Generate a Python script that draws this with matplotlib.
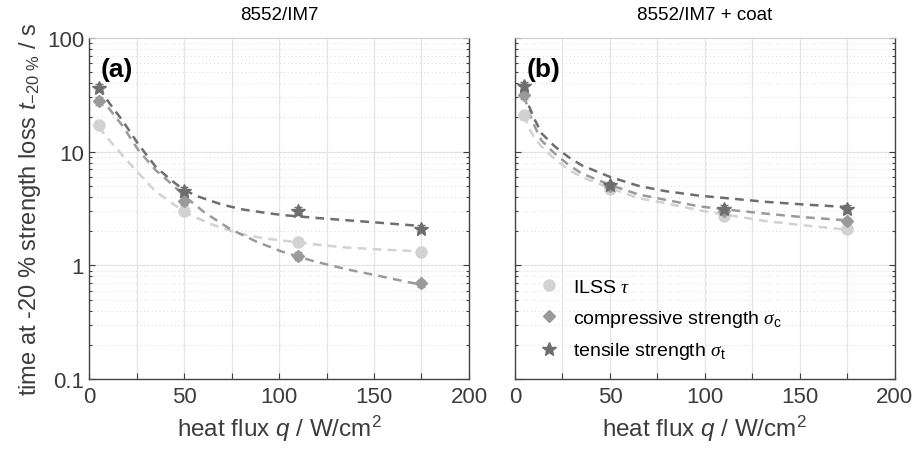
import numpy as np
import matplotlib
matplotlib.use("Agg")
import matplotlib.pyplot as plt
from matplotlib.ticker import FixedLocator, NullFormatter

plt.rcParams['font.family'] = ['Liberation Sans', 'DejaVu Sans']
plt.rcParams['mathtext.fontset'] = 'custom'
plt.rcParams['mathtext.rm'] = 'Liberation Sans'
plt.rcParams['mathtext.it'] = 'Liberation Sans:italic'
plt.rcParams['mathtext.cal'] = 'Liberation Serif:italic'

# measured points, heat flux in W/cm2
q = [5, 50, 110, 175]

# 8552/IM7
ilss_a = [17.0, 3.0, 1.6, 1.31]
comp_a = [28.0, 3.7, 1.21, 0.70]
tens_a = [36.5, 4.5, 3.0, 2.1]
ilss_a_err = [1.2, 0.2, 0.08, 0.07]
comp_a_err = [2.0, 0.3, 0.1, 0.05]
tens_a_err = [2.5, 0.35, 0.25, 0.15]

# 8552/IM7 + coat
ilss_b = [21.0, 4.7, 2.7, 2.07]
comp_b = [31.5, 5.0, 3.0, 2.45]
tens_b = [38.0, 5.1, 3.15, 3.15]
ilss_b_err = [1.5, 0.25, 0.15, 0.12]
comp_b_err = [2.5, 0.3, 0.2, 0.15]
tens_b_err = [3.0, 0.3, 0.25, 0.25]

# fit curves
fit_q_a = [5, 10.5, 17.5, 26, 35, 43, 50, 58, 70, 81, 95, 104, 120, 136, 153, 170, 175]
fit_tens_a = [37, 27, 18.9, 11.6, 7.4, 5.65, 4.6, 4.0, 3.42, 3.1, 2.86, 2.75, 2.61, 2.49, 2.37, 2.25, 2.22]
fit_q_a2 = [5, 10.5, 17.5, 26, 35, 44, 50, 61, 74, 88, 101, 118, 136, 153, 170, 175]
fit_comp_a = [31, 24, 17.0, 10.3, 6.9, 5.1, 4.1, 2.9, 2.1, 1.62, 1.33, 1.09, 0.92, 0.805, 0.70, 0.68]
fit_q_a3 = [5, 11.4, 22.8, 35, 51, 65, 79, 92, 105, 120, 136, 153, 169, 175]
fit_ilss_a = [16.5, 12.2, 7.4, 4.47, 2.88, 2.28, 1.9, 1.73, 1.63, 1.52, 1.43, 1.38, 1.34, 1.32]

fit_q_b = [5, 7, 10.5, 14, 21, 28, 35, 50, 65, 79, 97, 115, 132, 152, 173, 175]
fit_tens_b = [34, 26, 19.0, 14.5, 11.1, 9.0, 7.6, 6.0, 5.0, 4.5, 4.1, 3.85, 3.62, 3.43, 3.27, 3.25]
fit_comp_b = [31, 23, 16.5, 12.5, 9.6, 7.7, 6.45, 5.1, 4.2, 3.78, 3.3, 3.05, 2.85, 2.65, 2.5, 2.48]
fit_ilss_b = [21, 16.5, 13.0, 11.1, 8.6, 7.0, 6.0, 4.78, 3.9, 3.53, 3.05, 2.72, 2.45, 2.25, 2.07, 2.05]

c_ilss = '#d2d2d2'
c_comp = '#9a9a9a'
c_tens = '#6e6e6e'
tick_col = '#3c3c3c'

fig = plt.figure(figsize=(9.16, 4.52), dpi=100)
ax1 = fig.add_axes([0.0972, 0.1593, 0.4148, 0.7544])
ax2 = fig.add_axes([0.5622, 0.1593, 0.4148, 0.7544])


def style(ax):
    ax.set_yscale('log')
    ax.set_xlim(0, 200)
    ax.set_ylim(0.1, 100)
    ax.xaxis.set_major_locator(FixedLocator([0, 50, 100, 150, 200]))
    ax.xaxis.set_minor_locator(FixedLocator([25, 75, 125, 175]))
    ax.grid(True, which='major', axis='both', color='#e4e4e4', lw=0.9)
    ax.grid(True, which='minor', axis='x', color='#e4e4e4', lw=0.9)
    ax.grid(True, which='minor', axis='y', color='#d8d8d8', lw=0.7, ls=(0, (1, 3)))
    ax.set_axisbelow(True)
    ax.tick_params(which='both', direction='in', top=False, right=True,
                   colors=tick_col, labelsize=16, length=4, width=0.8)
    ax.tick_params(which='minor', length=2.5)
    ax.tick_params(axis='x', which='minor', length=4)
    ax.tick_params(axis='x', pad=5)
    for s in ['left', 'bottom', 'right']:
        ax.spines[s].set_color('#444444')
        ax.spines[s].set_linewidth(1.0)
    ax.spines['top'].set_color('#cccccc')
    ax.spines['top'].set_linewidth(0.6)
    ax.set_xlabel(r'heat flux $q$ / W/cm$^2$', fontsize=17.5, color=tick_col, labelpad=4)


def draw(ax, fq1, ft, fq2, fc, fq3, fi, ti, ci, si, tie, cie, sie):
    kw = dict(lw=1.8, dashes=(3.5, 2.5))
    ax.plot(fq3, fi, color=c_ilss, **kw)
    ax.plot(fq2, fc, color=c_comp, **kw)
    ax.plot(fq1, ft, color=c_tens, **kw)
    ax.errorbar(q, ti, yerr=tie, fmt='o', ms=8, color=c_ilss, mec=c_ilss,
                capsize=3, elinewidth=1, label=r'ILSS $\mathcal{\tau}$', zorder=3)
    ax.errorbar(q, ci, yerr=cie, fmt='D', ms=6.5, color=c_comp, mec=c_comp,
                capsize=3, elinewidth=1,
                label=r'compressive strength $\mathcal{\sigma}_\mathrm{c}$', zorder=3)
    ax.errorbar(q, si, yerr=sie, fmt='*', ms=10.5, color=c_tens, mec=c_tens,
                capsize=3, elinewidth=1,
                label=r'tensile strength $\mathcal{\sigma}_\mathrm{t}$', zorder=3)


style(ax1)
style(ax2)
draw(ax1, fit_q_a, fit_tens_a, fit_q_a2, fit_comp_a, fit_q_a3, fit_ilss_a,
     ilss_a, comp_a, tens_a, ilss_a_err, comp_a_err, tens_a_err)
draw(ax2, fit_q_b, fit_tens_b, fit_q_b, fit_comp_b, fit_q_b, fit_ilss_b,
     ilss_b, comp_b, tens_b, ilss_b_err, comp_b_err, tens_b_err)

ax1.yaxis.set_major_locator(FixedLocator([0.1, 1, 10, 100]))
ax1.set_yticklabels(['0.1', '1', '10', '100'])
ax2.yaxis.set_major_locator(FixedLocator([0.1, 1, 10, 100]))
ax2.yaxis.set_major_formatter(NullFormatter())
ax2.yaxis.set_minor_formatter(NullFormatter())
ax1.yaxis.set_minor_formatter(NullFormatter())

ax1.set_ylabel(r'time at -20 % strength loss $t_{\mathrm{-20\ \%}}$ / s',
               fontsize=17, color=tick_col, labelpad=3)

ax1.set_title('8552/IM7', fontsize=13.5, pad=14)
ax2.set_title('8552/IM7 + coat', fontsize=13.5, pad=14)
ax1.text(0.03, 0.945, '(a)', transform=ax1.transAxes, fontsize=19,
         fontweight='bold', va='top')
ax2.text(0.03, 0.945, '(b)', transform=ax2.transAxes, fontsize=19,
         fontweight='bold', va='top')

handles, labels = ax2.get_legend_handles_labels()
handles = [h[0] for h in handles]
ax2.legend(handles, labels, loc='lower left', bbox_to_anchor=(0.005, 0.0),
           frameon=False, fontsize=14, labelspacing=0.6, handletextpad=0.5,
           handlelength=1.5)

fig.savefig('out.png', dpi=100)
